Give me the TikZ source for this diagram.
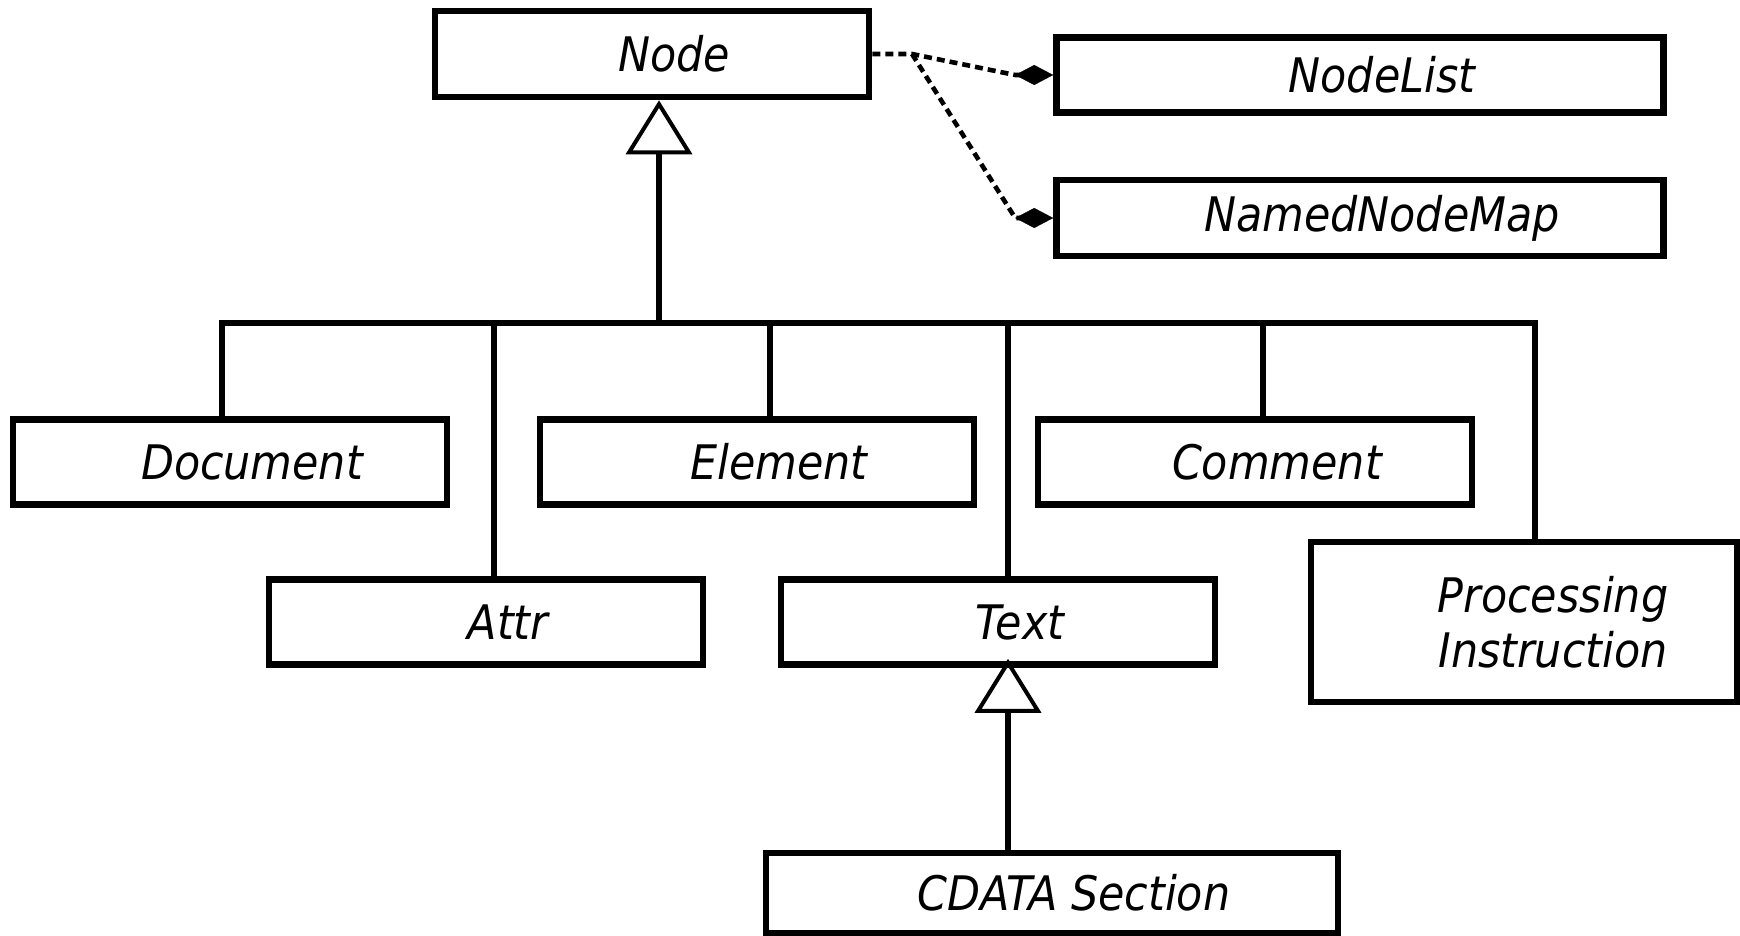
\documentclass[tikz,border=0pt]{standalone}
\usepackage{fontspec}
\usetikzlibrary{arrows.meta}
\newfontfamily\lblfont{DejaVu Sans Condensed Oblique}
\begin{document}
\begin{tikzpicture}[x=0.5pt,y=-0.5pt,
  classbox/.style={draw=black, line width=3.3pt, rectangle, inner sep=0pt,
    minimum width=217pt, minimum height=42.5pt,
    font=\lblfont\fontsize{23.8}{27.5}\selectfont,
    execute at begin node={\hspace*{22pt}}},
  wire/.style={draw=black, line width=3.2pt},
  inherit/.style={wire, -{Triangle[open, length=27pt, width=33pt, line width=2pt]}},
  assoc/.style={draw=black, line width=2.3pt, dash pattern=on 4pt off 2.5pt,
    -{Diamond[length=19pt, width=10pt, line width=0.1pt, fill=black]}},
  line join=miter]
\useasboundingbox (0,0) rectangle (1740,936);

% classes
\node[classbox, minimum height=43pt] (node) at (652,54) {Node};
\node[classbox, minimum width=303.5pt, minimum height=37.5pt] (nodelist) at (1360,75) {NodeList};
\node[classbox, minimum width=303.5pt, minimum height=38pt] (nnmap) at (1360,218) {NamedNodeMap};
\node[classbox] (document) at (230,462) {Document};
\node[classbox] (element) at (757,462) {Element};
\node[classbox] (comment) at (1255,462) {Comment};
\node[classbox] (attr) at (486,622) {Attr};
\node[classbox] (text) at (998,622) {Text};
\node[classbox, minimum width=213pt, minimum height=80pt, align=center,
  execute at begin node={}] (pi) at (1524,622)
  {\hspace*{7pt}Processing\\\hspace*{7pt}Instruction};
\node[classbox, minimum width=286pt, minimum height=40pt] (cdata) at (1052,893) {CDATA Section};

% columns of the inheritance tree
\coordinate (trunk) at (659,323);
\coordinate (cDoc) at (222,323);
\coordinate (cAttr) at (494,323);
\coordinate (cElem) at (770,323);
\coordinate (cText) at (1008,323);
\coordinate (cComm) at (1263,323);
\coordinate (cPI) at (1535,323);

% bus with the outer branches
\draw[wire] (cDoc |- document.north) -- (cDoc) -- (cPI) -- (cPI |- pi.north);
\draw[wire] (cAttr) -- (cAttr |- attr.north);
\draw[wire] (cElem) -- (cElem |- element.north);
\draw[wire] (cText) -- (cText |- text.north);
\draw[wire] (cComm) -- (cComm |- comment.north);

% generalisations
\draw[inherit] (trunk) -- ([yshift=0pt]trunk |- node.south);
\draw[inherit] (cText |- cdata.north) -- ([yshift=4.5pt]cText |- text.south);

% associations
\coordinate (fork) at (912,54);
\coordinate (nlTip) at ([xshift=-19pt]nodelist.west);
\coordinate (nmTip) at ([xshift=-19pt]nnmap.west);
\draw[assoc] (node.east) -- (fork) -- (nlTip) -- (nodelist.west);
\draw[assoc] (fork) -- (nmTip) -- (nnmap.west);
\end{tikzpicture}
\end{document}
